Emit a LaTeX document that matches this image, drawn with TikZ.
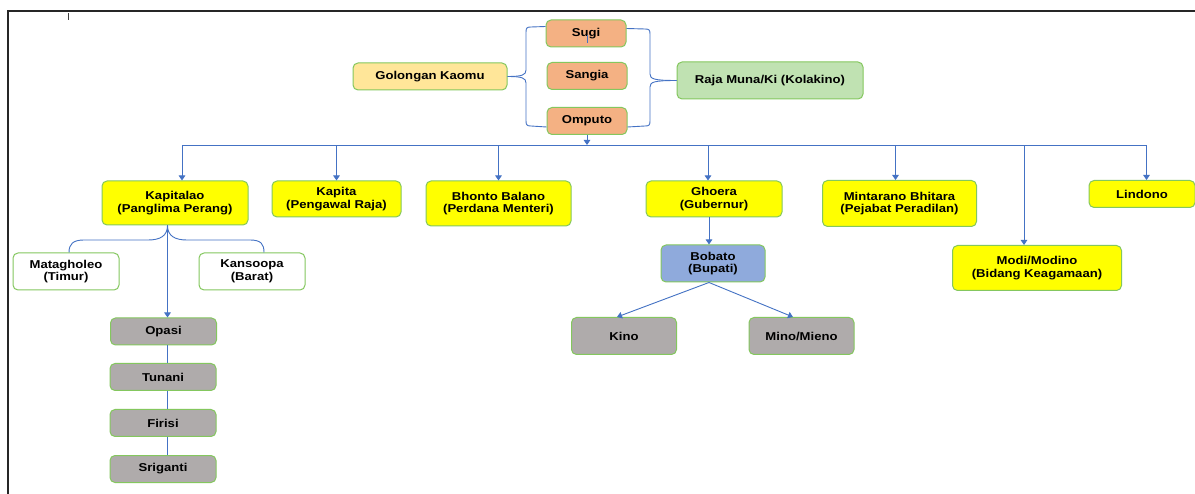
\documentclass[tikz,border=0pt]{standalone}
\usepackage{fontspec}
\setmainfont{Liberation Sans}[FakeStretch=1.15]
\usetikzlibrary{arrows.meta,calc}
\definecolor{lnblue}{HTML}{4472C4}
\definecolor{bordergreen}{HTML}{84C75E}
\definecolor{ylw}{HTML}{FFFF00}
\definecolor{paleylw}{HTML}{FFE699}
\definecolor{orng}{HTML}{F4B183}
\definecolor{palegreen}{HTML}{C0E2B2}
\definecolor{grybox}{HTML}{AFABAB}
\definecolor{bluebox}{HTML}{8FAADC}
\begin{document}
\begin{tikzpicture}[x=1pt,y=-1pt,
  box/.style={draw=bordergreen, line width=1pt, rounded corners=5pt, align=center,
    font=\bfseries\fontsize{11.4}{12.5}\selectfont, inner sep=0pt, text=black},
  conn/.style={draw=lnblue, line width=0.9pt},
  arr/.style={conn, -{Triangle[width=6.5pt,length=5pt]}}]
\useasboundingbox (0,0) rectangle (1195,494);
\fill[white] (0,0) rectangle (1195,494);
% frame
\draw[line width=2pt, black!85] (1195,11) -- (8,11) -- (8,494);
\draw[line width=1pt, black!75] (68,13) -- (68,20);

% top group
\node[box, fill=paleylw, minimum width=154pt, minimum height=27pt] (golongan) at (430,76.5) {Golongan Kaomu};
\node[box, fill=orng, minimum width=80pt, minimum height=27pt] (sugi) at (586,33.5) {Sugi};
\node[box, fill=orng, minimum width=80pt, minimum height=27pt] (sangia) at (587,76) {Sangia};
\node[box, fill=orng, minimum width=80pt, minimum height=27pt] (omputo) at (587,121) {Omputo};
\node[box, fill=palegreen, minimum width=186pt, minimum height=37pt] (raja) at (770,80.5) {Raja Muna/Ki (Kolakino)};
\draw[conn] (sugi.center) ++(1,2) -- ++(0,8);

% braces
\draw[conn] ($(sugi.north west)+(0,7)$) -- (531,27) .. controls (527,27) and (526,28) .. (526,32) -- (526,70)
  .. controls (526,75) and (522,76.5) .. (golongan.east);
\draw[conn] (golongan.east) .. controls (522,76.5) and (526,78) .. (526,83) -- (526,121)
  .. controls (526,125) and (527,126) .. (531,126) -- ($(omputo.south west)+(0,-8)$);
\draw[conn] ($(sugi.north east)+(0,9)$) -- (645,29) .. controls (649,29) and (650,30) .. (650,34) -- (650,74)
  .. controls (650,79) and (654,80.5) .. (raja.west);
\draw[conn] (raja.west) .. controls (654,80.5) and (650,82) .. (650,87) -- (650,121)
  .. controls (650,125) and (649,126) .. (645,126) -- ($(omputo.south east)+(0,-8)$);

% level 2
\node[box, fill=ylw, minimum width=146pt, minimum height=44pt] (kapitalao) at (175,203) {Kapitalao\\(Panglima Perang)};
\node[box, fill=ylw, minimum width=129pt, minimum height=36pt] (kapita) at (336.5,199) {Kapita\\(Pengawal Raja)};
\node[box, fill=ylw, minimum width=145pt, minimum height=45pt] (bhonto) at (498.5,203.5) {Bhonto Balano\\(Perdana Menteri)};
\node[box, fill=ylw, minimum width=136pt, minimum height=36pt] (ghoera) at (714,199) {Ghoera\\(Gubernur)};
\node[box, fill=ylw, minimum width=154pt, minimum height=46pt] (mintarano) at (899.5,203.5) {Mintarano Bhitara\\(Pejabat Peradilan)};
\node[box, fill=ylw, minimum width=106pt, minimum height=27pt] (lindono) at (1142,194) {Lindono};
\node[box, fill=ylw, minimum width=169pt, minimum height=45pt] (modi) at (1037,268) {Modi/Modino\\(Bidang Keagamaan)};

% bus
\coordinate (bus) at (587,145);
\draw[arr] (omputo.south) -- (bus);
\draw[arr] (bus) -| ($(kapitalao.north)+(7,0)$);
\draw[arr] (bus) -| (kapita.north);
\draw[arr] (bus) -| (bhonto.north);
\draw[arr] (bus) -| ($(ghoera.north)+(-6,0)$);
\draw[arr] (bus) -| ($(mintarano.north)+(-4,0)$);
\draw[arr] (bus) -| ($(modi.north)+(-13,0)$);
\draw[arr] (bus) -| ($(lindono.north)+(4.5,0)$);

% Ghoera branch
\node[box, fill=bluebox, minimum width=104pt, minimum height=37pt] (bobato) at (713,263.5) {Bobato\\(Bupati)};
\node[box, fill=grybox, minimum width=105pt, minimum height=37pt] (kino) at (624,336) {Kino};
\node[box, fill=grybox, minimum width=105pt, minimum height=37pt] (mino) at (801.5,336) {Mino/Mieno};
\draw[arr] ($(ghoera.south)+(-5,0)$) -- ($(bobato.north)+(-4,0)$);
\draw[arr] ($(bobato.south)+(-4,0)$) -- ($(kino.north)+(-7,0)$);
\draw[arr] ($(bobato.south)+(-4,0)$) -- ($(mino.north)+(-8.5,0)$);

% Kapitalao branch
\node[box, fill=white, minimum width=106pt, minimum height=37pt] (matagholeo) at (66,271.5) {Matagholeo\\(Timur)};
\node[box, fill=white, minimum width=106pt, minimum height=37pt] (kansoopa) at (252,271.5) {Kansoopa\\(Barat)};
\coordinate (ks) at ($(kapitalao.south)+(-7.5,0)$);
\draw[conn] (ks) .. controls (167.5,236) and (160,240) .. (148,240) -- (84,240)
  .. controls (73,240) and (69,244) .. ($(matagholeo.north)+(3,0)$);
\draw[conn] (ks) .. controls (167.5,236) and (175,240) .. (187,240) -- (250,240)
  .. controls (261,240) and (264,244) .. ($(kansoopa.north)+(12,0)$);

\node[box, fill=grybox, minimum width=106pt, minimum height=27pt] (opasi) at (163.5,331.5) {Opasi};
\node[box, fill=grybox, minimum width=106pt, minimum height=27pt] (tunani) at (163,377) {Tunani};
\node[box, fill=grybox, minimum width=106pt, minimum height=27pt] (firisi) at (163,423) {Firisi};
\node[box, fill=grybox, minimum width=106pt, minimum height=27pt] (sriganti) at (163,469) {Sriganti};
\draw[arr] (ks) -- ($(opasi.north)+(4,0)$);
\draw[conn] ($(opasi.south)+(3.5,0)$) -- ($(tunani.north)+(4,0)$);
\draw[conn] ($(tunani.south)+(4,0)$) -- ($(firisi.north)+(4,0)$);
\draw[conn] ($(firisi.south)+(4,0)$) -- ($(sriganti.north)+(4,0)$);
\end{tikzpicture}
\end{document}
